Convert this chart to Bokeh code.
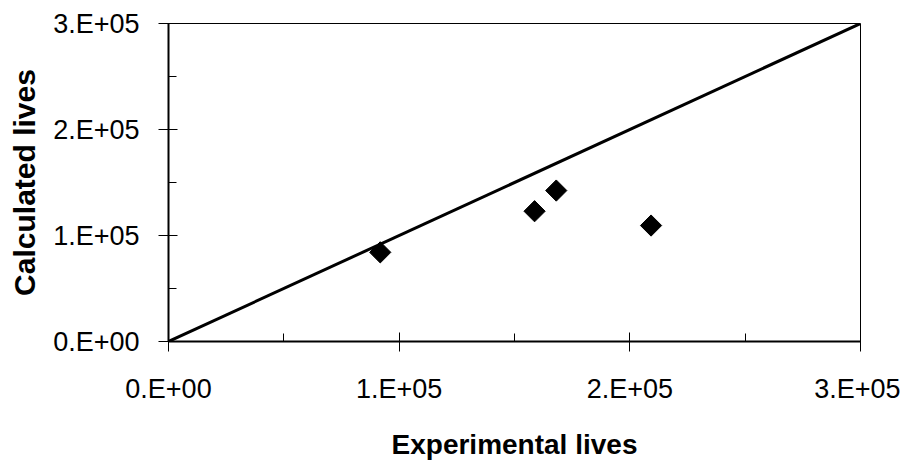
from bokeh.plotting import figure
from bokeh.models import FixedTicker, Range1d
from bokeh.embed import file_html
from bokeh.resources import INLINE
import math

# Data
experimental = [91800, 158700, 168100, 209200]
calculated = [84100, 122900, 142400, 109400]
line_x = [0, 300000]
line_y = [0, 300000]
major_ticks = [0, 100000, 200000, 300000]
minor_ticks = [50000, 150000, 250000]
tick_labels = ["0.E+00", "1.E+05", "2.E+05", "3.E+05"]

p = figure(width=900, height=444, output_backend="svg", toolbar_location=None,
           x_range=Range1d(0, 300000), y_range=Range1d(0, 300000),
           frame_width=692, frame_height=318,
           min_border_left=168, min_border_right=40, min_border_top=23, min_border_bottom=103)

p.xgrid.visible = False
p.ygrid.visible = False
p.outline_line_color = "black"
p.outline_line_width = 1
p.outline_line_alpha = 1
p.background_fill_color = "white"
p.border_fill_color = "white"

p.line(line_x, line_y, line_color="black", line_width=3)
p.scatter(experimental, calculated, marker="square", angle=math.pi / 4, size=15,
          fill_color="black", line_color="black")

overrides = {t: l for t, l in zip(major_ticks, tick_labels)}
for ax in (p.xaxis[0], p.yaxis[0]):
    ax.ticker = FixedTicker(ticks=major_ticks, minor_ticks=minor_ticks)
    ax.major_label_overrides = overrides
    ax.axis_line_width = 2
    ax.axis_line_color = "black"
    ax.major_tick_line_color = "black"
    ax.minor_tick_line_color = "black"
    ax.major_tick_line_width = 1
    ax.minor_tick_line_width = 1
    ax.major_tick_in = 9
    ax.major_tick_out = 10
    ax.minor_tick_in = 8
    ax.minor_tick_out = 0
    ax.major_label_text_font = "Liberation Sans"
    ax.major_label_text_font_size = "27px"
    ax.major_label_text_color = "black"
    ax.axis_label_text_font = "Liberation Sans"
    ax.axis_label_text_font_style = "bold"
    ax.axis_label_text_color = "black"

p.xaxis.axis_label_text_font_size = "28px"
p.yaxis.axis_label_text_font_size = "30px"
p.xaxis.axis_label = "Experimental lives"
p.yaxis.axis_label = "Calculated lives"
p.xaxis.major_label_standoff = 22
p.yaxis.major_label_standoff = 19
p.xaxis.axis_label_standoff = 22
p.yaxis.axis_label_standoff = 9

open("out.html", "w").write(file_html(p, INLINE))
